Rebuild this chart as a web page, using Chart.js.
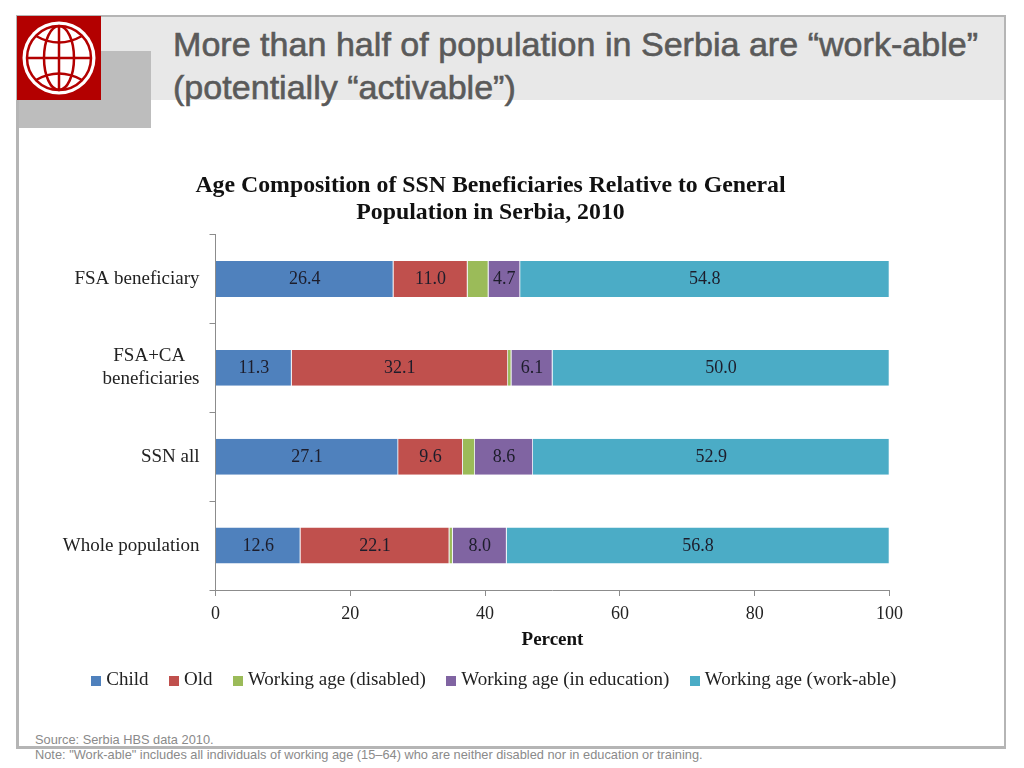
<!DOCTYPE html>
<html>
<head>
<meta charset="utf-8">
<title>Age Composition of SSN Beneficiaries</title>
<script src="https://cdn.jsdelivr.net/npm/chart.js@4/dist/chart.umd.min.js"></script>
<style>
    html, body { margin: 0; padding: 0; background: #fff; }
    #slide { position: relative; width: 1024px; height: 768px; overflow: hidden; }
    #frame { position: absolute; left: 16px; top: 15px; width: 985px; height: 729px; border: solid #b5b5b5; border-width: 2px 2px 3px 3px; }
    #band { position: absolute; left: 19px; top: 17px; width: 985px; height: 83px; background: #e8e8e8; }
    #block { position: absolute; left: 17px; top: 51px; width: 134px; height: 77px; background: #bdbdbd; }
    #logo { position: absolute; left: 17px; top: 16px; width: 84px; height: 84px; background: #b30000; }
    #heading { position: absolute; left: 173px; top: 23px; font: 34.1px/43px "Liberation Sans", sans-serif; color: #5a5a5a; white-space: nowrap; -webkit-text-stroke: 0.6px #5a5a5a; }
    .foot { position: absolute; left: 35px; font: 12.8px "Liberation Sans", sans-serif; color: #8a8a8a; white-space: nowrap; }
    #chart-wrap { position: absolute; left: 0; top: 165px; width: 981px; height: 535px; }
</style>
</head>
<body>
<div id="slide">
    <div id="band"></div>
    <div id="block"></div>
    <div id="frame"></div>
    <div id="logo">
        <svg width="84" height="84" viewBox="0 0 84 84" fill="none" stroke="#b30000">
            <circle cx="42" cy="42" r="36.5" fill="#fff" stroke="none"/>
            <circle cx="42" cy="42" r="32" stroke-width="2.5"/>
            <ellipse cx="42" cy="42" rx="15" ry="32" stroke-width="2.5"/>
            <path d="M42 10V74M10 42H74" stroke-width="2.5"/>
            <path d="M19 20Q42 33 65 20M19 64Q42 51 65 64" stroke-width="2.5"/>
        </svg>
    </div>
    <div id="heading">More than half of population in Serbia are “work-able”<br>(potentially “activable”)</div>
    <div id="chart-wrap"><canvas id="chart" width="981" height="535"></canvas></div>
    <div class="foot" style="top:732px">Source: Serbia HBS data 2010.</div>
    <div class="foot" style="top:747px">Note: "Work-able" includes all individuals of working age (15–64) who are neither disabled nor in education or training.</div>
</div>
<script>
const categories = ["FSA beneficiary", ["FSA+CA\u00a0\u00a0\u00a0", "beneficiaries"], "SSN all", "Whole population"];
const child = [26.4, 11.3, 27.1, 12.6];
const old = [11.0, 32.1, 9.6, 22.1];
const disabled = [3.1, 0.5, 1.8, 0.5];
const inEducation = [4.7, 6.1, 8.6, 8.0];
const workAble = [54.8, 50.0, 52.9, 56.8];
const xTicks = [0, 20, 40, 60, 80, 100];

const serif = '"Liberation Serif", serif';
const axisGray = '#8c8c8c';

function series(label, data, color, showValues) {
    return { label: label, data: data, backgroundColor: color, showValues: showValues,
        borderColor: 'rgba(225, 235, 245, 0.7)', borderWidth: { left: 0, top: 0, bottom: 0, right: 0.8 },
        barPercentage: 0.8, categoryPercentage: 0.505 };
}

// 10px legend square, the default legend leaves too wide a gap before the text
function swatch(color) {
    let c = document.createElement('canvas');
    c.width = 10;
    c.height = 10;
    let g = c.getContext('2d');
    g.fillStyle = color;
    g.fillRect(0, 0, 10, 10);
    return c;
}

// value labels in the middle of each segment
const segmentLabels = {
    id: 'segmentLabels',
    afterLayout(chart) {
        // legend sits a little right of the title in the picture
        chart.legend.left += 5.5;
        chart.legend.right += 5.5;
    },
    afterDatasetsDraw(chart) {
        let ctx = chart.ctx;
        ctx.save();
        ctx.font = '18px ' + serif;
        ctx.fillStyle = '#1d1d2b';
        ctx.textAlign = 'center';
        ctx.textBaseline = 'middle';
        chart.data.datasets.forEach(function(ds, i) {
            if (!ds.showValues) return;
            chart.getDatasetMeta(i).data.forEach(function(bar, j) {
                let props = bar.getProps(['x', 'y', 'base']);
                ctx.fillText(ds.data[j].toFixed(1), (props.x + props.base) / 2, props.y + 0.5);
            });
        });
        ctx.restore();
    }
};

new Chart(document.getElementById('chart'), {
    type: 'bar',
    data: {
        labels: categories,
        datasets: [
            series('Child', child, '#4f81bd', true),
            series('Old', old, '#c0504d', true),
            series('Working age (disabled)', disabled, '#9bbb59', false),
            series('Working age (in education)', inEducation, '#8064a2', true),
            series('Working age (work-able)', workAble, '#4bacc6', true)
        ]
    },
    options: {
        indexAxis: 'y',
        responsive: false,
        animation: false,
        plugins: {
            tooltip: { enabled: false },
            title: {
                display: true,
                text: ['Age Composition of SSN Beneficiaries Relative to General', 'Population in Serbia, 2010'],
                color: '#111',
                font: { family: serif, size: 23.8, weight: 'bold', lineHeight: 1.135 },
                padding: { top: 7, bottom: 8.5 }
            },
            legend: {
                position: 'bottom',
                labels: {
                    usePointStyle: true,
                    pointStyleWidth: 1,
                    padding: 25,
                    color: '#222',
                    font: { family: serif, size: 19 },
                    generateLabels(chart) {
                        return Chart.defaults.plugins.legend.labels.generateLabels(chart).map(function(item) {
                            item.pointStyle = swatch(chart.data.datasets[item.datasetIndex].backgroundColor);
                            return item;
                        });
                    }
                }
            }
        },
        scales: {
            x: {
                stacked: true,
                min: 0,
                max: 100,
                afterBuildTicks(scale) { scale.ticks = xTicks.map(v => ({ value: v })); },
                afterFit(scale) { scale.height = 56; },
                grid: { drawOnChartArea: false, color: axisGray, tickLength: 6 },
                border: { color: axisGray },
                ticks: { color: '#222', padding: 7, maxRotation: 0, font: { family: serif, size: 18 } },
                title: { display: true, text: 'Percent', color: '#111', padding: { top: 2, bottom: -5 },
                    font: { family: serif, size: 19, weight: 'bold' } }
            },
            y: {
                stacked: true,
                afterFit(scale) { scale.width = 215.5; },
                grid: { drawOnChartArea: false, color: axisGray, tickLength: 6 },
                border: { color: axisGray },
                ticks: { color: '#222', padding: 10, autoSkip: false, font: { family: serif, size: 19 } }
            },
            // empty axis, only keeps the plot clear of the right side so title and legend stay centred on the canvas
            spacer: {
                axis: 'y',
                position: 'right',
                afterFit(scale) { scale.width = 91.5; },
                grid: { display: false },
                border: { display: false },
                ticks: { display: false }
            }
        }
    },
    plugins: [segmentLabels]
});
</script>
</body>
</html>
